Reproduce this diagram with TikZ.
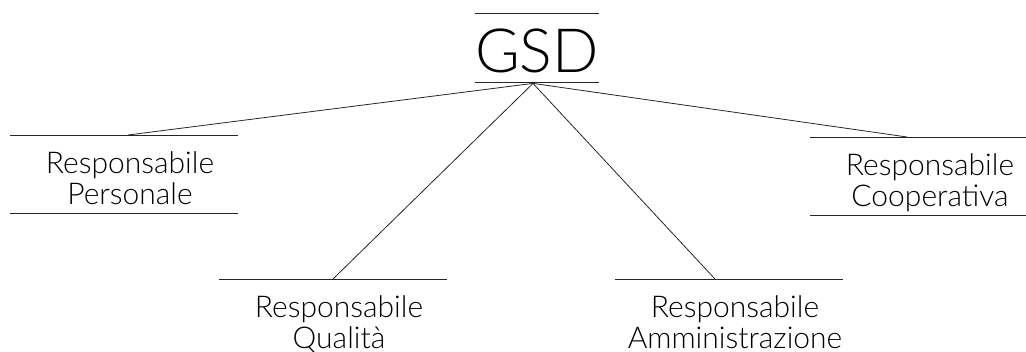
\documentclass[tikz,border=0pt]{standalone}
\usepackage{fontspec}
\setmainfont{Lato Light}
\usepackage{tikz}
\usetikzlibrary{calc,positioning}
% two lines of a role, with room kept above and below for the rules
\newcommand{\roletext}[2]{\rule{0pt}{38pt}#1\\#2\rule[-9pt]{0pt}{9pt}}

\begin{document}
\begin{tikzpicture}[
    x=1pt, y=-1pt,
    rule/.style={draw=black!85, line width=0.8pt},
    link/.style={draw=black!85, line width=0.8pt},
    head/.style={
      inner sep=0pt, minimum width=118pt,
      text height=59pt, text depth=10pt,
      font=\fontsize{61}{61}\selectfont,
      append after command={
        (\tikzlastnode.north west) edge[rule] (\tikzlastnode.north east)
        (\tikzlastnode.south west) edge[rule] (\tikzlastnode.south east)}
    },
    role/.style={
      inner sep=0pt, align=center, minimum width=228pt,
      font=\fontsize{30}{31}\selectfont,
      append after command={
        ([xshift=-6pt]\tikzlastnode.north west) edge[rule] ([xshift=-6pt]\tikzlastnode.north east)}
    },
    boxed/.style={role,
      append after command={
        ([xshift=-6pt]\tikzlastnode.south west) edge[rule] ([xshift=-6pt]\tikzlastnode.south east)}
    }
  ]
    \useasboundingbox (0,0) rectangle (1026,352);

    \node[head, anchor=north] (gsd) at (537,13) {GSD};
    \node[boxed, anchor=north] (pers) at (130,135) {\roletext{Responsabile}{Personale}};
    \node[boxed, anchor=north] (coop) at (930,137) {\roletext{Responsabile}{Cooperativa}};
    \node[role, anchor=north] (qual) at (339,279) {\roletext{Responsabile}{Qualità}};
    \node[role, anchor=north] (amm) at (735,279) {\roletext{Responsabile}{Amministrazione}};

    \coordinate (hub) at ($(gsd.south)+(-4,1)$);
    \draw[link] (hub) -- ($(pers.north)+(-2,0)$);
    \draw[link] (hub) -- ($(coop.north)+(-23,0)$);
    \draw[link] (hub) -- ($(qual.north)+(-6,0)$);
    \draw[link] (hub) -- ($(amm.north)+(-20,0)$);
  \end{tikzpicture}
\end{document}
